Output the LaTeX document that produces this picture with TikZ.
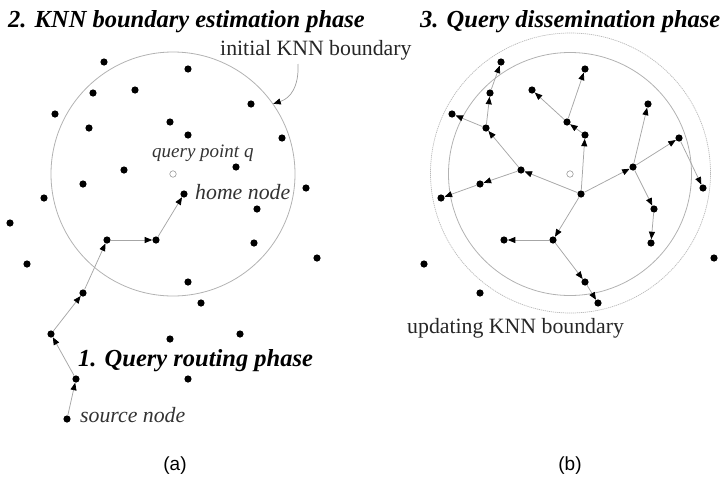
\documentclass[tikz,border=0pt]{standalone}
\usepackage{fontspec}
\setmainfont{Liberation Serif}
\newfontfamily\sansf{Liberation Sans}
\usetikzlibrary{arrows.meta}
\begin{document}
\begin{tikzpicture}[x=1pt,y=-1pt,
  dot/.style={circle,fill=black,inner sep=0pt,minimum size=7.2pt},
  qpt/.style={circle,draw=gray!80,fill=white,inner sep=0pt,minimum size=6.5pt,line width=0.6pt},
  link/.style={draw=gray!70,line width=0.75pt,-{Triangle[length=7.5pt,width=6pt,color=black,fill=black]}},
  bound/.style={circle,draw=gray!60,line width=0.8pt,inner sep=0pt},
  outerb/.style={circle,draw=gray!55,line width=0.7pt,inner sep=0pt,dash pattern=on 1.2pt off 0.8pt},
  phase/.style={font=\fontsize{24.5}{26}\selectfont\bfseries\itshape,inner sep=0pt,anchor=base west},
  lab/.style={font=\fontsize{21.8}{24}\selectfont\itshape,inner sep=0pt,text=black!80,anchor=base west},
  plain/.style={font=\fontsize{21.8}{24}\selectfont,inner sep=0pt,text=black!85,anchor=base west},
  capt/.style={font=\sansf\fontsize{19}{22}\selectfont,inner sep=0pt,anchor=base}]
\useasboundingbox (0,0) rectangle (724,480);

% ---------- panel (a) ----------
\node[bound,minimum size=244pt] (C1) at (173,174) {};
\node[qpt] (q1) at (173,174) {};
\foreach \n/\x/\y in {1/104/62,2/188/69,3/93/93,4/135/90,5/251/104,6/55/114,7/89/128,8/170/122,9/188/135,10/282/138,
  11/124/170,12/236/167,13/83/184,14/184/194,15/306/188,16/44/198,17/257/209,18/10/223,19/107/240,20/156/240,
  21/254/243,22/27/264,23/317/258,24/188/282,25/83/293,26/201/303,27/51/334,28/170/339,29/240/334,30/76/379,
  31/188/379,32/67/419}
  \node[dot] (L\n) at (\x,\y) {};

\draw[link] (L32) -- (L30);
\draw[link] (L30) -- (L27);
\draw[link] (L27) -- (L25);
\draw[link] (L25) -- (L19);
\draw[link] (L19) -- (L20);
\draw[link] (L20) -- (L14);

\node[phase] (t2) at (8,27) {2. KNN boundary estimation phase};
\node[plain] (tinit) at (220,55) {initial KNN boundary};
\coordinate (ib) at (298,64);
\draw[draw=gray!75,line width=0.7pt,-{Triangle[length=7.5pt,width=6pt,color=black,fill=black]}]
  (ib) .. controls (299,86) and (291,98) .. (C1.35);
\node[lab,font=\fontsize{19}{22}\selectfont\itshape] (tq) at (152,157) {query point q};
\node[lab] (thome) at (195,199) {home node};
\node[phase] (t1) at (78,366) {1. Query routing phase};
\node[lab] (tsrc) at (80,422) {source node};
\node[capt] (ca) at (175,470) {(a)};

% ---------- panel (b) ----------
\node[outerb,minimum size=280pt] (C3) at (570.5,173) {};
\node[bound,minimum size=243pt] (C2) at (570,174) {};
\node[qpt] (q2) at (570,174) {};
\foreach \n/\x/\y in {1/104/62,2/188/69,3/93/93,4/135/90,5/251/104,6/55/114,7/89/128,8/170/122,9/188/135,10/282/138,
  11/124/170,12/236/167,13/83/184,14/184/194,15/306/188,16/44/198,17/257/209,19/107/240,20/156/240,
  21/254/243,22/27/264,23/317/258,24/188/282,25/83/293,26/201/303}
  \node[dot] (R\n) at (\x+397,\y) {};

\draw[link] (R14) -- (R20);
\draw[link] (R20) -- (R19);
\draw[link] (R20) -- (R24);
\draw[link] (R24) -- (R26);
\draw[link] (R14) -- (R12);
\draw[link] (R12) -- (R17);
\draw[link] (R17) -- (R21);
\draw[link] (R12) -- (R10);
\draw[link] (R12) -- (R5);
\draw[link] (R10) -- (R15);
\draw[link] (R14) -- (R11);
\draw[link] (R11) -- (R13);
\draw[link] (R13) -- (R16);
\draw[link] (R11) -- (R7);
\draw[link] (R7) -- (R6);
\draw[link] (R7) -- (R3);
\draw[link] (R3) -- (R1);
\draw[link] (R14) -- (R9);
\draw[link] (R9) -- (R8);
\draw[link] (R8) -- (R4);
\draw[link] (R8) -- (R2);

\node[phase] (t3) at (420,27) {3. Query dissemination phase};
\node[plain] (tupd) at (407,333) {updating KNN boundary};
\node[capt] (cb) at (570,470) {(b)};
\end{tikzpicture}
\end{document}
